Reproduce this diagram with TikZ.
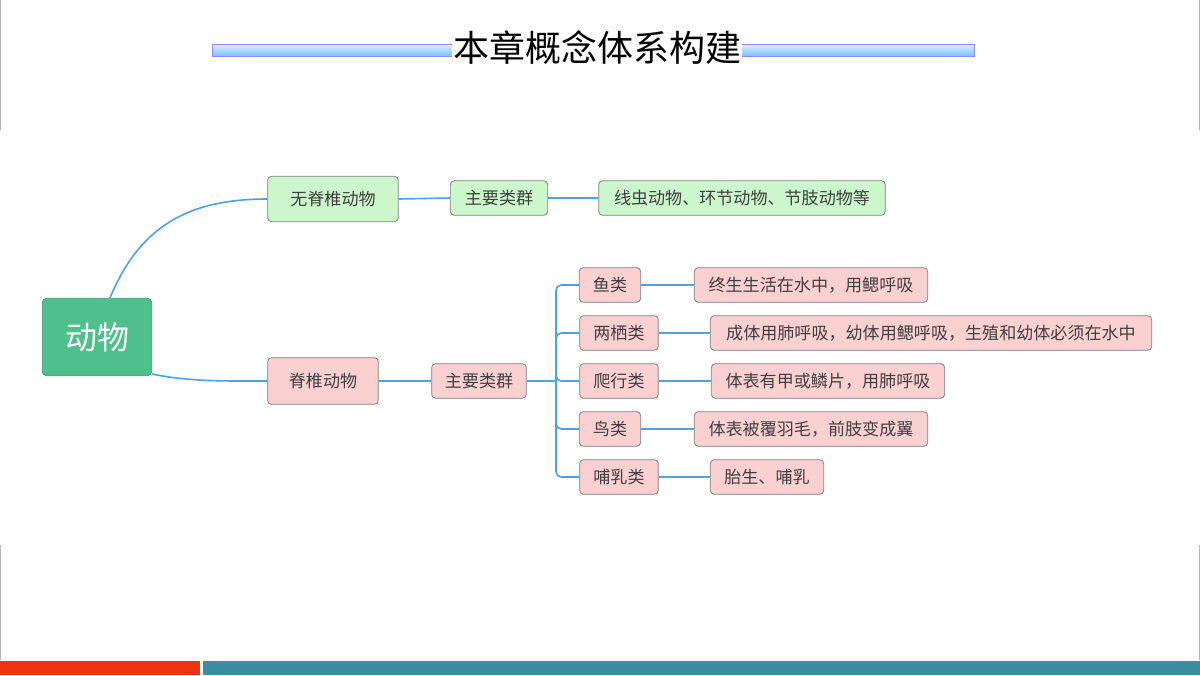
\documentclass[tikz,border=0pt]{standalone}
\usepackage{fontspec}
\newfontfamily\cjk{Noto Sans CJK SC}
\definecolor{pkf}{HTML}{FAD0D0}
\definecolor{grf}{HTML}{CCF7CC}
\definecolor{rootf}{HTML}{4FC08D}
\definecolor{lnc}{HTML}{4AA3E8}
\definecolor{tealc}{HTML}{3A8F9F}
\definecolor{redc}{HTML}{EE3311}
\begin{document}
\begin{tikzpicture}[x=0.75pt,y=-0.75pt,font=\cjk,
 box/.style={rounded corners=3pt,draw=black!50,line width=0.6pt,inner sep=0pt,font=\cjk\fontsize{12.8}{13}\selectfont,text=black!75},
 pk/.style={box,fill=pkf},
 gr/.style={box,fill=grf},
 ln/.style={draw=lnc,line width=1.2pt}]
\useasboundingbox (0,0) rectangle (1200,675);
\fill[white] (0,0) rectangle (1200,675);
\draw[black!30] (0.5,0)--(0.5,130) (1199.5,0)--(1199.5,130) (0.5,545)--(0.5,660) (1199.5,545)--(1199.5,660);
\fill[redc] (0,661) rectangle (200,675);
\fill[tealc] (203,661) rectangle (1200,675);
\shade[top color=blue!8,bottom color=cyan!60!blue!55,draw=blue!45] (212,44) rectangle (974,56);
\node[font=\cjk\fontsize{27}{27}\selectfont,fill=white,inner xsep=1pt,inner ysep=0pt] (title) at (597,48) {本章概念体系构建};
\node[box,fill=rootf,draw=rootf!80!black,text=white,minimum width=82pt,minimum height=58pt,font=\cjk\fontsize{24}{24}\selectfont] (root) at (97,337) {动物};
\node[gr,minimum width=98pt,minimum height=34pt] (inv) at (333,199) {无脊椎动物};
\node[gr,minimum width=73pt,minimum height=26pt] (g1) at (499,198) {主要类群};
\node[gr,minimum width=215pt,minimum height=26pt] (d0) at (742,198) {线虫动物、环节动物、节肢动物等};
\node[pk,minimum width=83pt,minimum height=35pt] (ver) at (323,381) {脊椎动物};
\node[pk,minimum width=71pt,minimum height=26pt] (g2) at (479,381) {主要类群};
\foreach \n/\x/\y/\w/\t in {c1/610/285/46/鱼类,c2/619/333/59/两栖类,c3/619/381/59/爬行类,c4/610/429/46/鸟类,c5/619/477/59/哺乳类}
  \node[pk,minimum width=\w pt,minimum height=26pt] (\n) at (\x,\y) {\t};
\node[pk,minimum width=175pt,minimum height=26pt] (e1) at (811,285) {终生生活在水中，用鳃呼吸};
\node[pk,minimum width=331pt,minimum height=26pt] (e2) at (931,333) {成体用肺呼吸，幼体用鳃呼吸，生殖和幼体必须在水中};
\node[pk,minimum width=175pt,minimum height=26pt] (e3) at (828,381) {体表有甲或鳞片，用肺呼吸};
\node[pk,minimum width=175pt,minimum height=26pt] (e4) at (811,429) {体表被覆羽毛，前肢变成翼};
\node[pk,minimum width=85pt,minimum height=26pt] (e5) at (767,477) {胎生、哺乳};
\coordinate (sp) at (556,381);
\coordinate (rt) at (110,298);
\coordinate (rb) at (152,374);
\draw[ln] (rt) .. controls (140,225) and (190,199) .. (inv.west);
\draw[ln] (rb) .. controls (190,382) and (230,381) .. (ver.west);
\draw[ln] (inv.east) -- (g1.west);
\draw[ln] (g1.east) -- (d0.west);
\draw[ln] (ver.east) -- (g2.west);
\draw[ln] (g2.east) -- (sp);
\foreach \i in {1,...,5} {
  \draw[ln,rounded corners=4pt] (sp) -- (sp|-c\i.west) -- (c\i.west);
  \draw[ln] (c\i.east) -- (e\i.west);
}
\end{tikzpicture}
\end{document}
